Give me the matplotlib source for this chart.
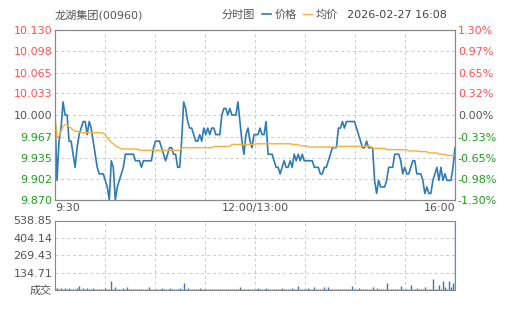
import matplotlib
matplotlib.use('Agg')
import matplotlib.pyplot as plt
import numpy as np

plt.rcParams['font.family'] = ['DejaVu Sans', 'Noto Sans CJK SC']

title = '龙湖集团(00960)'
chart_name = '分时图'
stamp = '2026-02-27 16:08'
prev_close = 10.00

price = [
    10.00, 9.90, 9.96, 9.98, 10.02, 10.00, 10.00, 9.96, 9.96, 9.94,
    9.92, 9.95, 9.97, 9.98, 9.99, 9.99, 9.97, 9.99, 9.98, 9.96,
    9.94, 9.92, 9.91, 9.91, 9.91, 9.90, 9.89, 9.87, 9.93, 9.92,
    9.87, 9.89, 9.90, 9.91, 9.92, 9.94, 9.94, 9.94, 9.94, 9.94,
    9.93, 9.93, 9.93, 9.92, 9.93, 9.93, 9.93, 9.93, 9.93, 9.95,
    9.96, 9.96, 9.96, 9.95, 9.94, 9.93, 9.94, 9.95, 9.95, 9.94,
    9.94, 9.92, 9.92, 9.96, 10.02, 10.01, 9.99, 9.98, 9.98, 9.97,
    9.96, 9.96, 9.97, 9.96, 9.98, 9.97, 9.98, 9.97, 9.98, 9.98,
    9.97, 9.97, 9.97, 10.00, 10.01, 10.01, 10.00, 10.01, 10.00, 10.00,
    10.00, 10.02, 9.99, 9.96, 9.94, 9.97, 9.98, 9.96, 9.95, 9.97,
    9.97, 9.97, 9.98, 9.97, 9.97, 9.99, 9.94, 9.94, 9.94, 9.93,
    9.92, 9.92, 9.91, 9.92, 9.93, 9.92, 9.92, 9.93, 9.92, 9.94,
    9.93, 9.94, 9.93, 9.94, 9.93, 9.93, 9.93, 9.93, 9.93, 9.92,
    9.92, 9.92, 9.91, 9.91, 9.92, 9.92, 9.93, 9.94, 9.95, 9.95,
    9.95, 9.98, 9.98, 9.99, 9.98, 9.99, 9.99, 9.99, 9.99, 9.99,
    9.98, 9.97, 9.96, 9.95, 9.95, 9.96, 9.95, 9.95, 9.95, 9.90,
    9.88, 9.90, 9.89, 9.89, 9.89, 9.90, 9.92, 9.92, 9.92, 9.94,
    9.94, 9.94, 9.93, 9.91, 9.92, 9.91, 9.91, 9.92, 9.93, 9.93,
    9.91, 9.91, 9.91, 9.90, 9.88, 9.89, 9.88, 9.88, 9.90, 9.91,
    9.92, 9.90, 9.92, 9.90, 9.91, 9.90, 9.90, 9.90, 9.92, 9.95,
]

avg_price = [
    10.000, 9.965, 9.968, 9.975, 9.983, 9.985, 9.985, 9.982, 9.980, 9.977,
    9.975, 9.975, 9.974, 9.973, 9.973, 9.973, 9.973, 9.973, 9.973, 9.973,
    9.973, 9.973, 9.973, 9.973, 9.972, 9.970, 9.965, 9.962, 9.958, 9.956,
    9.953, 9.951, 9.950, 9.948, 9.948, 9.948, 9.948, 9.948, 9.948, 9.948,
    9.948, 9.948, 9.946, 9.946, 9.946, 9.946, 9.946, 9.946, 9.946, 9.946,
    9.946, 9.946, 9.946, 9.946, 9.946, 9.946, 9.946, 9.946, 9.946, 9.946,
    9.946, 9.946, 9.946, 9.949, 9.950, 9.950, 9.950, 9.950, 9.950, 9.950,
    9.950, 9.950, 9.950, 9.950, 9.950, 9.950, 9.950, 9.950, 9.950, 9.952,
    9.952, 9.952, 9.952, 9.952, 9.952, 9.952, 9.952, 9.952, 9.955, 9.955,
    9.955, 9.955, 9.955, 9.955, 9.955, 9.955, 9.955, 9.955, 9.955, 9.955,
    9.956, 9.956, 9.956, 9.956, 9.956, 9.956, 9.956, 9.956, 9.956, 9.956,
    9.956, 9.956, 9.956, 9.956, 9.956, 9.956, 9.956, 9.956, 9.955, 9.955,
    9.955, 9.955, 9.953, 9.953, 9.953, 9.953, 9.951, 9.951, 9.951, 9.951,
    9.951, 9.951, 9.951, 9.951, 9.951, 9.951, 9.951, 9.951, 9.951, 9.951,
    9.951, 9.952, 9.952, 9.952, 9.952, 9.952, 9.952, 9.952, 9.952, 9.952,
    9.952, 9.952, 9.952, 9.952, 9.952, 9.952, 9.952, 9.952, 9.949, 9.949,
    9.949, 9.949, 9.949, 9.949, 9.949, 9.947, 9.947, 9.947, 9.947, 9.947,
    9.947, 9.947, 9.947, 9.947, 9.947, 9.947, 9.945, 9.945, 9.945, 9.945,
    9.945, 9.944, 9.944, 9.944, 9.944, 9.944, 9.942, 9.942, 9.942, 9.942,
    9.942, 9.940, 9.940, 9.940, 9.940, 9.938, 9.938, 9.938, 9.938, 9.938,
]

volume = [
    21, 18, 6, 16, 6, 13, 5, 13, 6, 5, 6, 13, 28, 6, 16, 5, 13, 6, 5, 13,
    6, 5, 6, 5, 6, 13, 5, 6, 70, 6, 21, 5, 6, 5, 13, 6, 21, 5, 6, 5,
    6, 5, 6, 5, 6, 5, 6, 21, 5, 6, 5, 6, 5, 13, 6, 5, 6, 13, 5, 6,
    5, 6, 16, 6, 54, 6, 13, 5, 6, 5, 6, 5, 13, 6, 5, 6, 5, 6, 5, 6,
    5, 6, 5, 6, 5, 10, 6, 5, 6, 5, 6, 5, 21, 6, 5, 6, 5, 6, 5, 6,
    5, 13, 6, 5, 6, 13, 5, 6, 5, 6, 5, 6, 5, 13, 6, 5, 6, 5, 13, 6,
    5, 28, 6, 5, 6, 5, 18, 6, 5, 21, 6, 5, 6, 5, 21, 6, 21, 5, 6, 5,
    6, 5, 6, 5, 6, 5, 6, 5, 28, 6, 5, 13, 6, 5, 6, 5, 6, 5, 21, 6,
    18, 6, 5, 6, 5, 54, 6, 5, 6, 5, 6, 5, 31, 6, 5, 6, 5, 39, 6, 5,
    16, 6, 5, 6, 21, 5, 6, 5, 85, 6, 5, 41, 6, 70, 21, 6, 70, 21, 52, 538.85,
]

price_ticks = [10.130, 10.098, 10.065, 10.033, 10.000, 9.967, 9.935, 9.902, 9.870]
pct_labels = ['1.30%', '0.97%', '0.65%', '0.32%', '0.00%', '-0.33%', '-0.65%', '-0.98%', '-1.30%']
vol_ticks = [0, 134.71, 269.43, 404.14, 538.85]
vol_labels = ['成交', '134.71', '269.43', '404.14', '538.85']
time_labels = ['9:30', '12:00/13:00', '16:00']

BLUE = '#2f7bb6'
ORANGE = '#f7b03c'
RED = '#ff5252'
GREEN = '#1e9e1e'
GRAY = '#555555'
SPINE = '#888888'


def color_by_side(labels, values):
    # red above previous close, green below, grey at it
    for lbl, v in zip(labels, values):
        if v > prev_close + 1e-9:
            lbl.set_color(RED)
        elif v < prev_close - 1e-9:
            lbl.set_color(GREEN)
        else:
            lbl.set_color(GRAY)


x = np.arange(len(price))
xmax = len(price) - 1

fig = plt.figure(figsize=(5.05, 3.10), dpi=100)
ax = fig.add_axes([55 / 505, 110 / 310, 400 / 505, 170 / 310])
axv = fig.add_axes([55 / 505, 20 / 310, 400 / 505, 69.5 / 310])

ax.plot(x, price, color=BLUE, lw=1.2, label='价格')
ax.plot(x, avg_price, color=ORANGE, lw=1.0, label='均价')
ax.set_xlim(0, xmax)
ax.set_ylim(price_ticks[-1], price_ticks[0])

grid_x = np.linspace(0, xmax, 9)
for a in (ax, axv):
    a.set_xticks(grid_x)
    a.grid(True, color='#cccccc', ls=(0, (3, 3)), lw=0.7)
    a.tick_params(length=0, labelsize=8, colors=GRAY, pad=2)
    for s in a.spines.values():
        s.set_color(SPINE)

ax.set_yticks(price_ticks)
ax.set_yticklabels(['%.3f' % v for v in price_ticks])
color_by_side(ax.get_yticklabels(), price_ticks)

xl = ['' for _ in grid_x]
xl[0], xl[4], xl[8] = time_labels
ax.set_xticklabels(xl)
tl = ax.get_xticklabels()
tl[0].set_ha('left')
tl[8].set_ha('right')

ax2 = ax.twinx()
ax2.set_ylim(price_ticks[-1], price_ticks[0])
ax2.set_yticks(price_ticks)
ax2.set_yticklabels(pct_labels)
ax2.tick_params(length=0, labelsize=8, pad=2)
for s in ax2.spines.values():
    s.set_color(SPINE)
color_by_side(ax2.get_yticklabels(), price_ticks)

axv.vlines(x, 0, volume, color=BLUE, lw=1.0)
axv.set_xlim(0, xmax)
axv.set_ylim(0, vol_ticks[-1])
axv.set_yticks(vol_ticks)
axv.set_yticklabels(vol_labels)
axv.set_xticklabels([])

ty = 1 - 15 / 310
fig.text(55 / 505, ty, title, fontsize=8, color=GRAY, va='center')
fig.text(222 / 505, ty, chart_name, fontsize=8, color=GRAY, va='center')
fig.text(347 / 505, ty, stamp, fontsize=8, color='#444444', va='center')
fig.legend(loc='center left', bbox_to_anchor=(262 / 505, ty), ncol=2,
           frameon=False, fontsize=8, handlelength=0.8, handletextpad=0.3,
           columnspacing=0.6, borderpad=0, borderaxespad=0, labelcolor=GRAY)

fig.savefig('out.png', dpi=100)
